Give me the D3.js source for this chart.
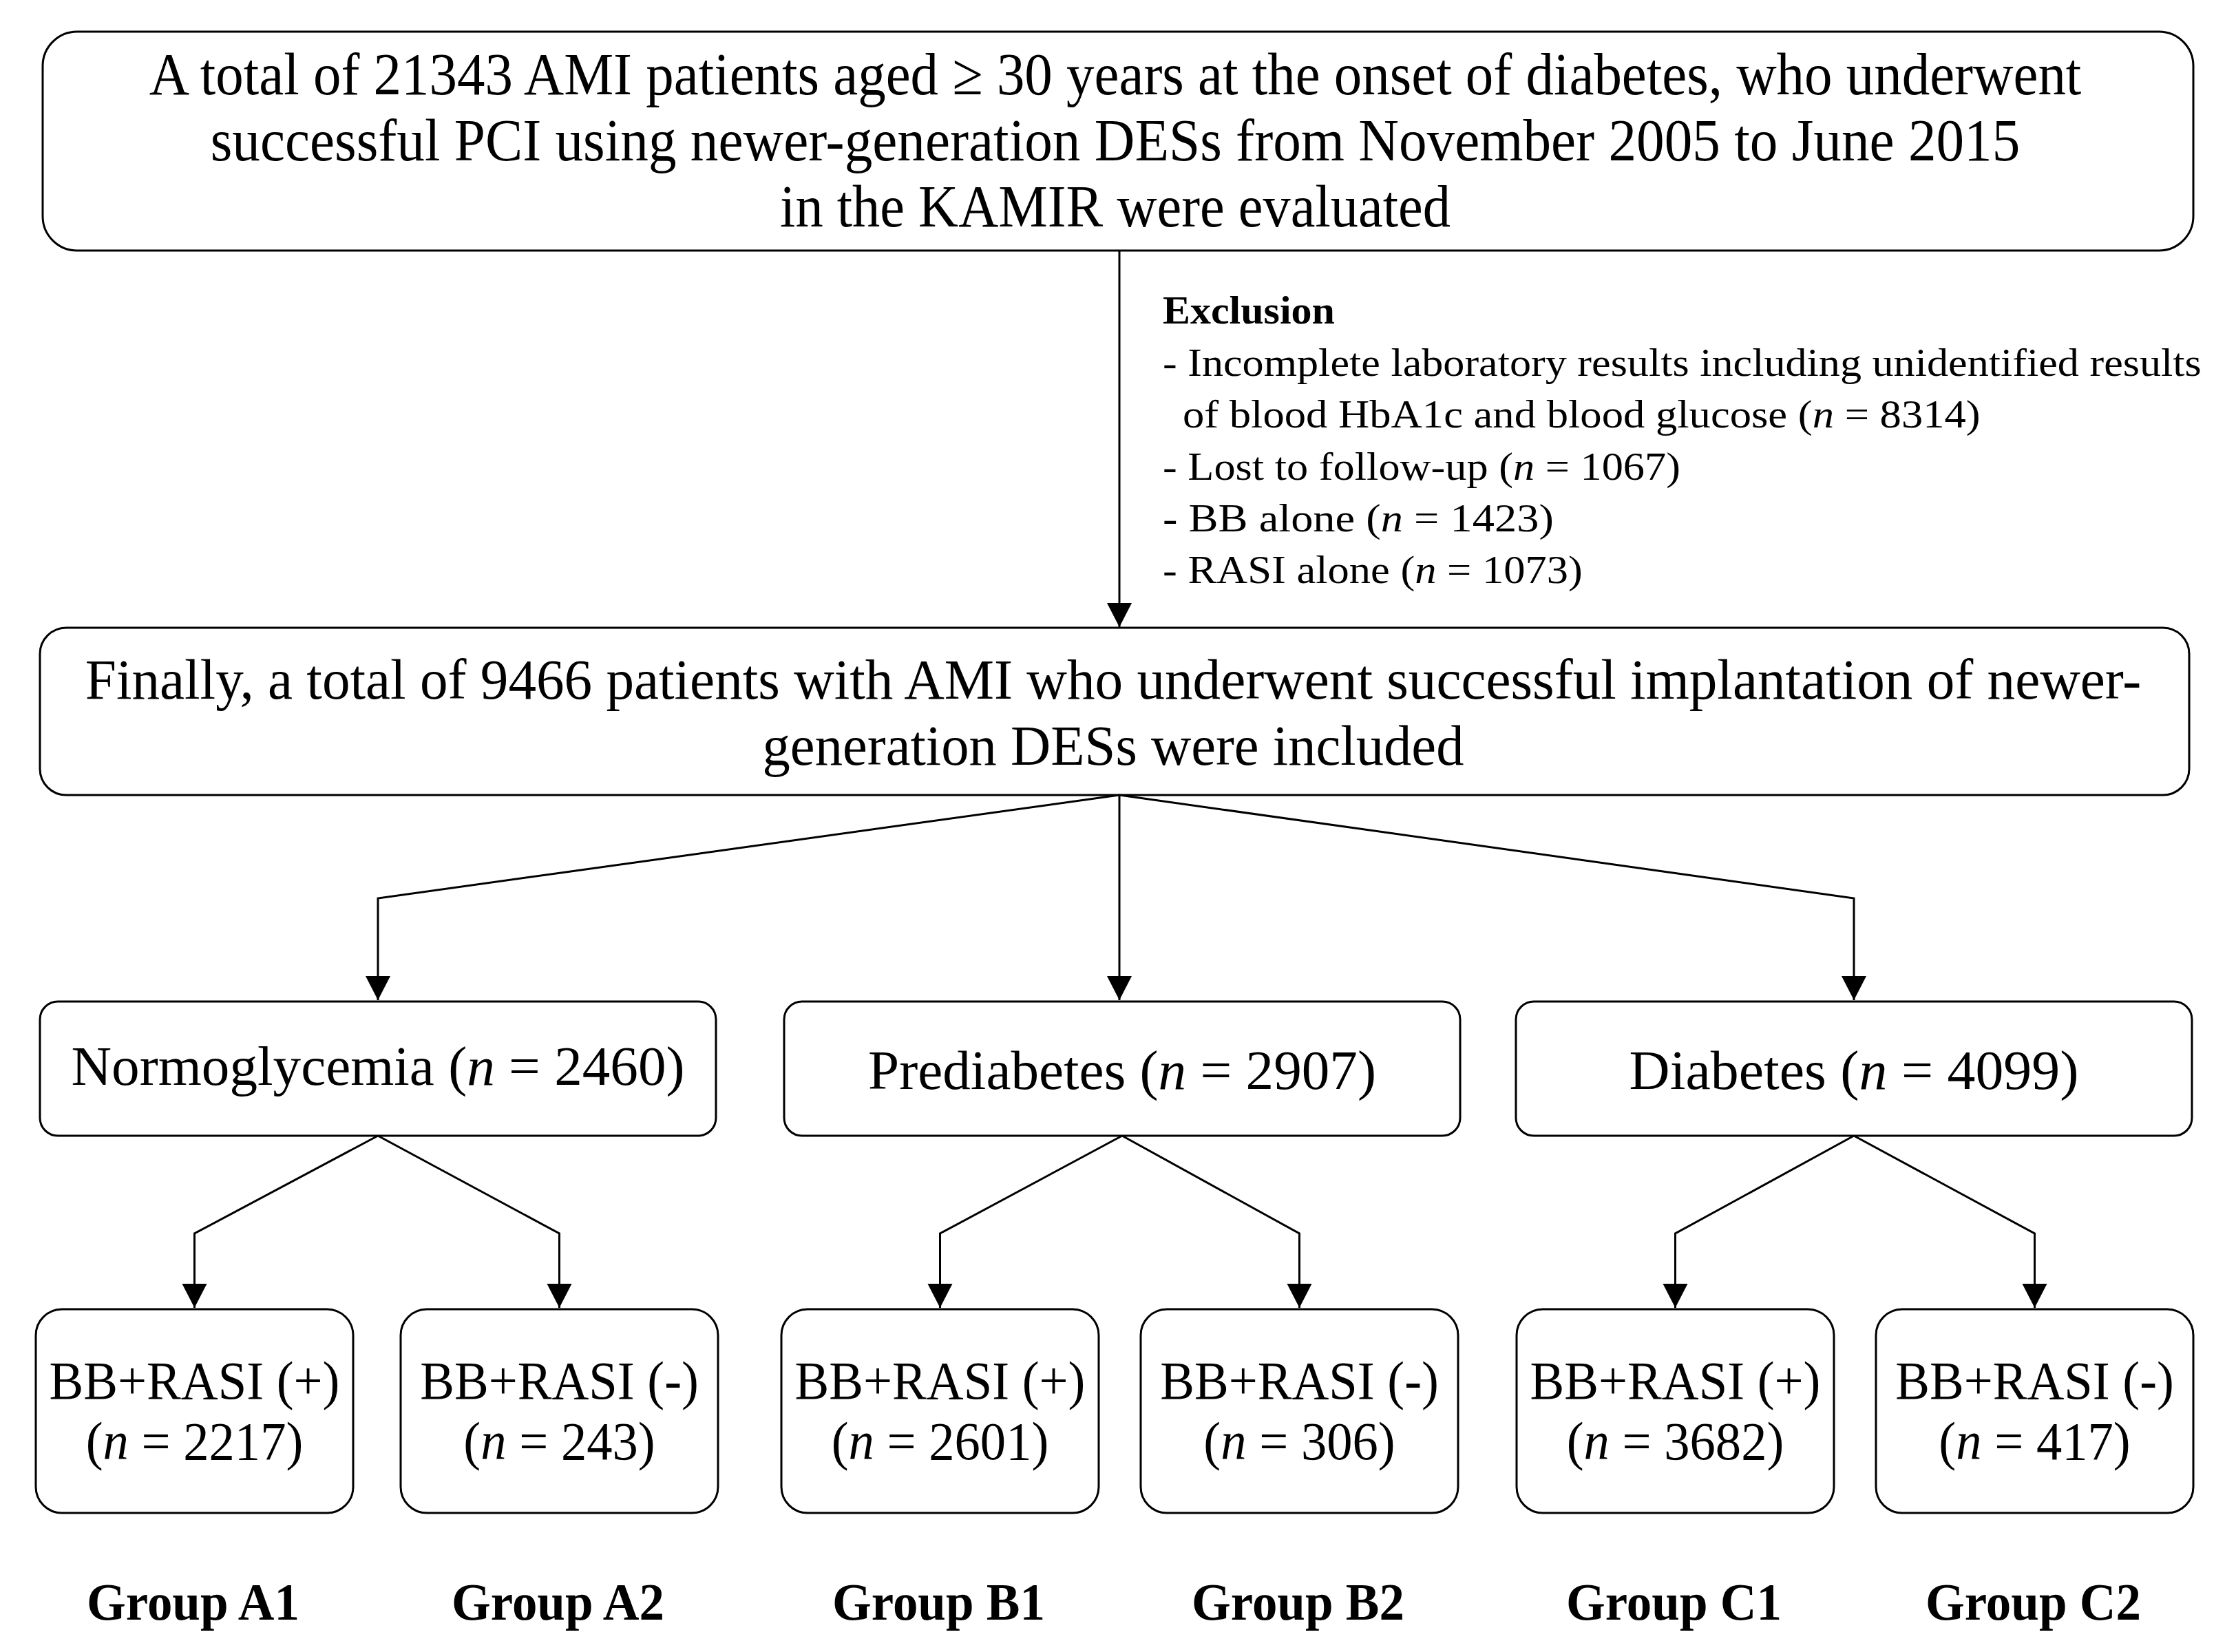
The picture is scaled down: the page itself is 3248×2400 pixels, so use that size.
<!DOCTYPE html>
<html><head><meta charset="utf-8">
<script src="https://cdn.jsdelivr.net/npm/d3@7"></script>
<style>body{margin:0;background:#fff}svg{display:block}</style>
</head><body>
<script>
// ---------- data ----------
const topLines = [
  "A total of 21343 AMI patients aged \u2265 30 years at the onset of diabetes, who underwent",
  "successful PCI using newer-generation DESs from November 2005 to June 2015",
  "in the KAMIR were evaluated"
];
const exclusionTitle = "Exclusion";
const exclusionLines = [
  "- Incomplete laboratory results including unidentified results",
  "of blood HbA1c and blood glucose (n = 8314)",
  "- Lost to follow-up (n = 1067)",
  "- BB alone  (n = 1423)",
  "- RASI alone (n = 1073)"
];
const finalLines = [
  "Finally, a total of 9466 patients with AMI who underwent successful implantation of newer-",
  "generation DESs were included"
];
const categories = ["Normoglycemia", "Prediabetes", "Diabetes"];
const categoryN = [2460, 2907, 4099];
const treatments = ["BB+RASI (+)", "BB+RASI (-)"];
const treatmentN = [[2217, 243], [2601, 306], [3682, 417]];
const groupLabels = [["Group A1", "Group A2"], ["Group B1", "Group B2"], ["Group C1", "Group C2"]];

// ---------- layout ----------
const W = 3248, H = 2400;
const FONT = "'Liberation Serif','Times New Roman',Times,serif";
const svg = d3.select("body").append("svg").attr("width", W).attr("height", H)
  .style("font-family", FONT);

const STROKE = "#000", SW = 3;

function box(x, y, w, h, r) {
  svg.append("rect").attr("x", x).attr("y", y).attr("width", w).attr("height", h)
    .attr("rx", r).attr("ry", r).attr("fill", "#fff").attr("stroke", STROKE).attr("stroke-width", SW);
}
function rich(t, str) {
  const parts = str.split(/(?<=\()n(?= =)/);
  parts.forEach((p, i) => {
    if (i > 0) t.append("tspan").style("font-style", "italic").text("n");
    t.append("tspan").text(p);
  });
}
// draw text at (x, y) with anchor, horizontally scaled to a target width (or given scale)
function txt(str, x, y, size, anchor, target, opts = {}) {
  const t = svg.append("text").attr("x", 0).attr("y", 0)
    .attr("text-anchor", anchor).style("font-size", size + "px")
    .style("font-weight", opts.bold ? "bold" : "normal").attr("fill", "#000");
  rich(t, str);
  const w = t.node().getComputedTextLength();
  const s = opts.scale ? opts.scale : (target ? target / w : 1);
  t.attr("transform", `translate(${x},${y}) scale(${s},1)`);
  t.datum(s);
  return t;
}
function arrowHead(x, yTip) {
  const L = 35, hw = 18;
  svg.append("path").attr("d", `M${x},${yTip}L${x - hw},${yTip - L}L${x + hw},${yTip - L}Z`).attr("fill", STROKE);
}
function line(pts, arrow) {
  svg.append("path").attr("d", d3.line()(pts)).attr("fill", "none")
    .attr("stroke", STROKE).attr("stroke-width", SW).attr("stroke-linejoin", "miter");
  if (arrow) { const p = pts[pts.length - 1]; arrowHead(p[0], p[1]); }
}

// top box
box(62, 46, 3124, 318, 50);
const topW = [2807, 2629, 974];
topLines.forEach((s, i) => txt(s, 1620, 137 + i * 96, 86, "middle", topW[i]));

// main arrow
const mainX = 1626;
line([[mainX, 364], [mainX, 911]], true);

// exclusion text
txt(exclusionTitle, 1689, 470, 56, "start", 250, { bold: true });
const exX = [1689, 1718, 1689, 1689, 1689];
const exW = [1509, 1159, 752, 568, 610];
exclusionLines.forEach((s, i) => txt(s, exX[i], 546 + i * 75.3, 56, "start", exW[i]));

// final box
box(58, 912, 3122, 243, 38);
const finW = [2987, 1019];
finalLines.forEach((s, i) => txt(s, 1617, 1015 + i * 96, 83, "middle", finW[i]));

// category boxes
const catX = [58, 1139, 2202], catW = 982, catY = 1455, catH = 195;
const catTextW = [891, 738, 653];
const catBase = [1576, 1582, 1582];
const catCx = catX.map(x => x + catW / 2);
categories.forEach((c, i) => {
  const cx = catCx[i];
  if (i === 1) line([[mainX, 1155], [mainX, catY - 2]], true);
  else line([[mainX, 1155], [cx, 1305], [cx, catY - 2]], true);
  box(catX[i], catY, catW, catH, 26);
  txt(`${c} (n = ${categoryN[i]})`, cx, catBase[i], 81, "middle", catTextW[i]);
});

// sub boxes
const subX = [[52, 582], [1135, 1657], [2203, 2725]], subW = 461, subY = 1902, subH = 296;
let sSmall = null, sGroup = null;
treatmentN.forEach((pair, i) => {
  pair.forEach((n, j) => {
    const x = subX[i][j], cx = x + subW / 2;
    line([[catCx[i], catY + catH], [cx, 1792], [cx, subY - 2]], true);
    box(x, subY, subW, subH, 38);
    const t1 = txt(treatments[j], cx, 2032, 78, "middle", sSmall ? null : 422, sSmall ? { scale: sSmall } : {});
    if (!sSmall) sSmall = t1.datum();
    txt(`(n = ${n})`, cx, 2120, 78, "middle", null, { scale: sSmall });
    const g = txt(groupLabels[i][j], cx - 2, 2353, 76, "middle", sGroup ? null : 309,
      sGroup ? { bold: true, scale: sGroup } : { bold: true });
    if (!sGroup) sGroup = g.datum();
  });
});
</script>
</body></html>
